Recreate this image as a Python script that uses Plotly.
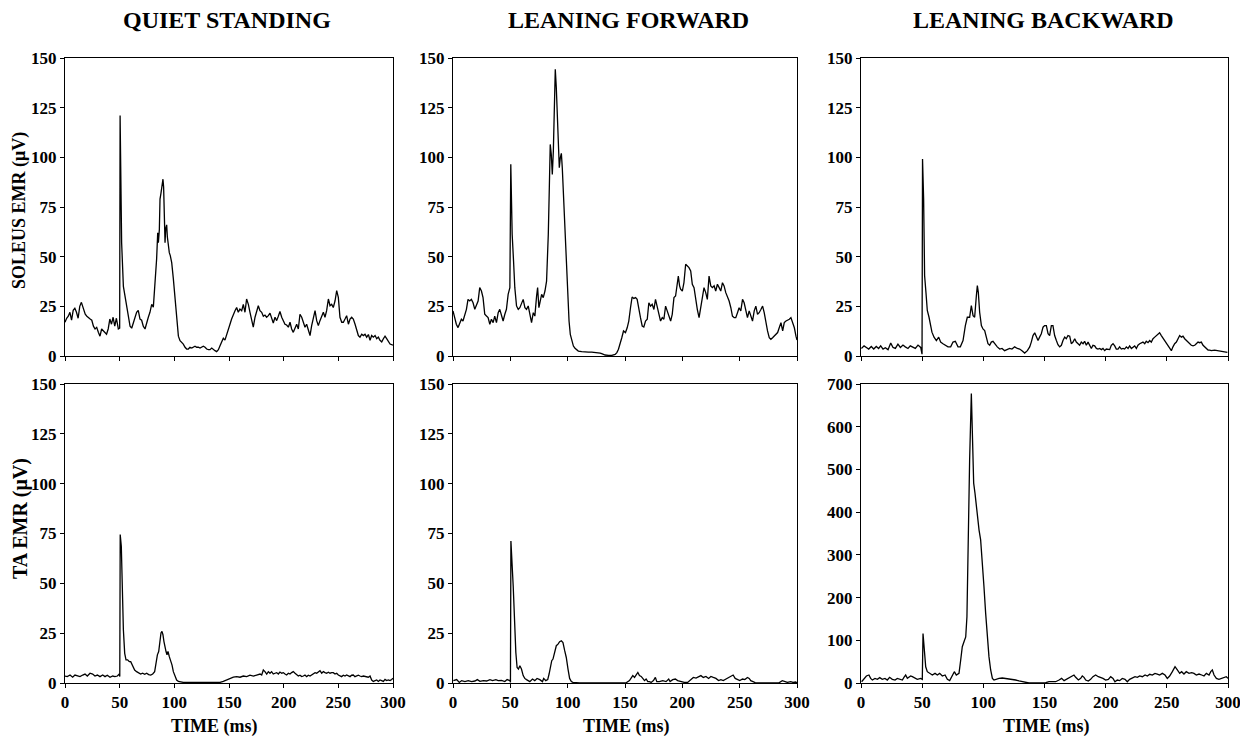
import plotly.graph_objects as go

# ---------------- data (time in ms, EMR in microvolts) ----------------
t_qs_sol = [
0, 1.5, 3, 4.5, 6, 7.5, 9, 10.5, 12, 13.5,
15, 17, 18.5, 20, 21.5, 23, 24.5, 26, 27.5, 29,
30.5, 32, 33.5, 35, 36.5, 38, 39.5, 41, 42.5, 44,
45.5, 47, 48.8, 50, 50.4, 51, 51.8, 53.4, 54.9, 56.4,
57.9, 59.5, 61, 62.5, 64, 65.5, 67, 68.6, 70.1, 71.6,
73.2, 74.7, 76.2, 77.7, 79.3, 80.8, 82.3, 83.8, 84.8, 85.4,
86.3, 86.9, 87.8, 88.7, 89.6, 90.2, 90.9, 91.5, 92.1, 93,
93.6, 94.5, 95.4, 96.3, 97.6, 99.1, 100.6, 101.5, 102.7, 103.7,
105.2, 106.7, 108.2, 109.8, 111.3, 112.8, 114.3, 115.9, 117.4, 118.9,
120.4, 122, 123.5, 125, 126.5, 128.1, 129.6, 131.1, 132.6, 134.2,
135.7, 137.2, 138.7, 140.3, 141.8, 143.3, 144.8, 146.3, 147.8, 149.3,
150.9, 152.4, 153.9, 155.5, 157, 158.5, 160, 161.6, 163.1, 164.6,
166.1, 167.7, 169.2, 170.7, 172.2, 173.8, 175.3, 176.8, 178.3, 179.9,
181.4, 182.9, 184.4, 186, 187.5, 189, 190.5, 192.1, 193.6, 195.1,
196.6, 198.2, 199.7, 201.2, 202.7, 204.3, 205.8, 207.3, 208.8, 210.4,
211.9, 213.4, 214.9, 216.5, 218, 219.5, 221, 222.6, 224.1, 225.6,
227.1, 228.7, 230.2, 231.7, 233.2, 234.8, 236.3, 237.8, 239.3, 240.9,
242.4, 243.9, 245.4, 247, 248.5, 250, 251.5, 253.1, 254.6, 256.1,
257.6, 259.2, 260.7, 262.2, 263.7, 265.3, 266.8, 268.3, 269.8, 271.4,
272.9, 274.4, 275.9, 277.5, 279, 280.5, 282, 283.6, 285.1, 286.6,
288.1, 289.7, 291.2, 292.7, 294.2, 295.8, 297.3, 300]
v_qs_sol = [
17, 19, 20, 22, 18, 23, 24, 22, 19, 25,
27, 24, 21, 20, 19.5, 18.6, 18, 15, 13.6, 14.4,
12, 10, 13.6, 12.8, 12, 11, 13.6, 18.6, 16, 19.5,
15, 19, 13.6, 14, 121, 100, 57, 35, 30, 25,
18.6, 15, 14, 17, 20, 22, 23, 18.6, 18, 15,
13.6, 17, 19.5, 22, 26, 24.6, 35, 48.8, 62, 57,
63.6, 79, 82, 85.7, 89, 85, 74, 57, 64, 66,
60, 55, 52, 50.5, 47, 38.8, 30, 25, 15, 10,
7.7, 6.9, 6, 4.4, 3.5, 3.5, 4.4, 4, 4.4, 4.9,
4.4, 4.4, 4, 4.4, 4.9, 4.4, 3.5, 3.2, 3.2, 4,
3.2, 2.7, 2.2, 3.2, 5.2, 6.9, 9, 8, 11, 12.7,
16, 18.6, 21, 22.8, 24.4, 22, 23.6, 22.8, 26, 22,
28.7, 26, 22, 17.8, 14.5, 19.5, 22.8, 25.3, 22.8, 22,
20, 20.6, 19.5, 20.3, 21.6, 19.5, 16.6, 19.5, 17.8, 20,
22.4, 19.5, 17.8, 16, 15.6, 14.5, 17, 13.6, 11.9, 13.6,
16, 13.6, 21, 19.5, 17, 14.5, 16, 13.6, 10.3, 15.3,
19.5, 22.8, 17.8, 15.3, 17.8, 20.3, 22, 19.5, 22.8, 28.7,
25.3, 26, 24.4, 27.8, 32.9, 29.5, 19.5, 17, 17, 18.6,
20.3, 16, 18.6, 19.5, 18.6, 16, 13.6, 10.3, 9.5, 11,
10.3, 11, 9.5, 10.8, 7.9, 10.3, 9.5, 10.3, 8.7, 9.5,
7.9, 7.1, 8.7, 10, 8.7, 7.1, 6, 5.5]

t_lf_sol = [
0, 1.5, 2.9, 4.4, 5.8, 7.3, 8.7, 10.2, 11.7, 13.1,
14.6, 16, 17.5, 19, 20.4, 21.9, 23.3, 24.8, 26.2, 27.7,
29.2, 30.6, 32.1, 33.5, 35, 36.4, 37.9, 39.4, 40.8, 42.3,
43.7, 45.2, 46.6, 48.1, 49.6, 50.4, 51.6, 52.8, 53.9, 55.4,
56.9, 58.3, 59.8, 61.2, 62.7, 64.1, 65.6, 67.1, 68.5, 70,
71.4, 72.9, 73.8, 74.9, 75.8, 77.3, 78.7, 80.2, 81.6, 82.5,
83.1, 84, 84.8, 85.7, 86.6, 87.5, 88.3, 89.2, 90.1, 91,
91.8, 92.7, 93.6, 94.5, 95.3, 96.5, 97.7, 98.8, 100, 101.2,
102.3, 103.5, 105, 106.4, 107.9, 109.3, 112.2, 115.2, 118.1, 121,
123.9, 126.8, 128.3, 129.7, 132.7, 135.6, 138.5, 141.4, 142.9, 144.3,
145.8, 147.2, 148.7,
150.4, 151.9, 153.3, 154.8, 156.2, 157.7, 159.2, 160.6, 162.1, 163.5,
165, 166.4, 167.9, 169.4, 170.8, 172.3, 173.7, 175.2, 176.6, 178.1,
179.6, 181, 182.5, 183.9, 185.4, 186.9, 188.3, 189.8, 191.2, 192.7,
194.1, 195.6, 196.5, 197.6, 198.5, 200, 201.4, 202.9, 204.3, 205.8,
207.3, 208.7, 210.2, 211.6, 213.1, 214.6, 216, 217.5, 218.9, 220.4,
221.8, 223.3, 224.8, 226.2, 227.7, 229.1, 230.6, 232.1, 233.5, 235,
236.4, 237.9, 239.3, 240.8, 242.3, 243.7, 245.2, 246.6, 248.1, 249.5,
251, 252.5, 253.9, 255.4, 256.8, 258.3, 259.8, 261.2, 262.7, 264.1,
265.6, 267, 268.5, 270, 271.4, 272.9, 274.3, 275.8, 277.2, 278.7,
280.2, 281.6, 283.1, 284.5, 286, 287.5, 288.9, 290.4, 291.8, 293.3,
294.7, 296.2, 297.7, 299.1, 300]
v_lf_sol = [
22.7, 19.3, 16, 14.3, 16.8, 18.5, 17.6, 21, 23.5, 28.5,
27.7, 28.5, 26.8, 23.5, 26, 27.7, 34.4, 32.7, 29.4, 21,
20.1, 19.3, 16, 18.5, 16.8, 20.1, 16.8, 21.8, 23.5, 20.1,
17.6, 21, 23.5, 31, 34.4, 96.5, 61.2, 47.8, 34.4, 25.2,
23.5, 24.3, 26.8, 28.5, 24.3, 23.5, 25.2, 21, 16.8, 21.8,
20.1, 30.2, 34.4, 24.3, 27.7, 31, 29.4, 32.7, 37.7, 47.8,
61.2, 84.7, 106.5, 101.5, 91.4, 103, 130, 144.3, 135, 118,
103, 94.8, 99.8, 102, 94.8, 78, 61.2, 42.7, 27.7, 17.6,
10.9, 7.6, 5, 3.9, 2.9, 2.5, 2.2, 2, 2, 2,
1.8, 1.8, 1.5, 1.2, 0.5, 0.3, 0.3, 0.8, 1.7, 3.4,
5.9, 9.2, 12.6,
11.8, 14.2, 17.6, 24.3, 29.7, 29, 29.4, 28.5, 22.7, 19.3,
15.1, 14.6, 17.6, 18.5, 26.8, 25.1, 26, 23.4, 28.5, 24.3,
21, 17.6, 19.3, 18.5, 25.1, 22.7, 20.1, 17.6, 21, 29.4,
30.2, 35.3, 40.2, 35.3, 33.6, 32.7, 36.9, 46.2, 45.3, 44.5,
42.8, 36.1, 34.4, 28.5, 23.4, 19.3, 25.1, 29.4, 34.4, 31.9,
28.5, 40.2, 35.3, 34.4, 35.3, 32.7, 36.1, 34.4, 32.7, 36.9,
35.3, 31.9, 30.2, 27.7, 24.3, 20.1, 19.3, 19.3, 21.8, 24.3,
22.7, 28.5, 26.8, 21.8, 19.3, 22.7, 19.3, 17.6, 22.7, 25.1,
21, 21.8, 23.4, 25.1, 21.8, 15.9, 12.6, 9.2, 8.4, 9.2,
10, 10.9, 11.8, 14.2, 16.8, 12.6, 16.8, 17.6, 18, 18.5,
19.3, 16.8, 14.2, 10, 8]

t_lb_sol = [
0.3, 2.5, 4.4, 6.3, 8.4, 10.4, 12.5, 14.4, 16.1, 18,
19.9, 22.1, 24.3, 26.2, 28.1, 30.2, 32.2, 34.3, 36.2, 38.4,
40.3, 42.5, 44.4, 46.6, 48.8, 49.9, 50.3, 51.2, 52, 53.1,
54.2, 55.6, 56.9, 58, 59.7, 61.6, 63.5, 65.1, 67, 68.9,
71.1, 73.3, 75.2, 77.1, 79.3, 81.2, 83.4, 85.3, 86.9, 88.8,
90.2, 91.6, 92.9, 94.3, 95.1, 95.9, 97, 98.4, 99.7, 101.1,
102.5, 103.8, 105.2, 106.5, 107.9, 109.3, 111.4, 113.4, 115.3, 117.4,
119.6, 121.5, 123.4, 125.6, 127.8, 129.7, 131.6, 133.8, 136, 137.9,
139.2, 140.6, 142, 143.3, 144.7, 146, 147.4, 148.8, 150.1, 151.5,
152.9, 154.2, 155.6, 156.9, 158.3, 159.7, 161, 162.4, 163.8, 165.1,
166.5, 167.8, 169.2, 170.6, 171.9, 173.3, 174.7, 176, 177.4, 178.7,
180.1, 181.5, 182.8, 184.2, 185.6, 186.9, 188.3, 189.6, 191, 192.4,
193.7, 195.1, 196.5, 197.8, 199.2, 200.5, 201.9, 203.3, 204.6, 206,
207.4, 208.7, 210.1, 211.4, 212.8, 214.2, 215.5, 216.9, 218.3, 219.6,
221, 222.3, 223.7, 225.1, 226.4, 227.8, 229.2, 230.5, 231.9, 233.2,
234.6, 236, 237.3, 238.7, 240.1, 241.4, 242.8, 244.1, 245.5, 246.9,
248.2, 249.6, 251, 252.3, 253.7, 255, 256.4, 257.8, 259.1, 260.5,
261.9, 263.2, 264.6, 265.9, 267.3, 268.7, 270, 271.4, 272.8, 274.1,
275.5, 276.8, 278.2, 279.6, 280.9, 282.3, 283.7, 285, 286.4, 289.1,
291.8, 294.5, 297.3, 299.5]
v_lb_sol = [
3.8, 5.1, 4.3, 3.5, 4.8, 3.5, 4.8, 3.8, 5.1, 3.5,
4.2, 3.2, 6.5, 4.3, 3.8, 6, 4.3, 5.5, 4.6, 3.8,
5.1, 4.3, 3.8, 5.5, 4.3, 0.9, 99.1, 79, 40.4, 32,
22.9, 19.5, 15.3, 12, 9.5, 7.8, 9.5, 7, 6.2, 5.4,
4.6, 4.6, 7, 7.4, 4.6, 4.6, 7.8, 15.3, 19.5, 19.5,
25.4, 20.3, 19.5, 30.3, 35.4, 32, 22, 15.3, 13.6, 12.8,
9.5, 6.2, 5.4, 7, 7.4, 6.2, 4.6, 3.5, 3.8, 2.7,
3.5, 3.8, 3.5, 4.6, 3.8, 3.5, 2.7, 1.5, 2.7, 4.6,
7, 10.3, 11.7, 9.5, 7.8, 9.5, 11.2, 14.5, 15.3, 15.3,
11.2, 10.3, 15.3, 15.3, 10.3, 7.8, 5.7, 4.6, 5.4, 7.8,
9.5, 8.7, 10.3, 10, 6.2, 7, 8.7, 7, 6.2, 5.4,
7, 6.2, 7.4, 5.4, 7, 5.4, 3.8, 5.4, 5.1, 3.8,
3.5, 3.8, 3.2, 3.8, 2.7, 3.5, 3.5, 3.2, 5.4, 6.2,
5.1, 3.5, 3.5, 4.6, 3.5, 3.8, 3.5, 4.6, 3.8, 5.1,
3.8, 4.6, 5.1, 3.8, 5.4, 6.2, 6.7, 7, 6.2, 7.4,
6.7, 7.8, 7, 8.7, 9.5, 10.3, 11.2, 11.7, 10.3, 9,
7.8, 6.2, 4.6, 3.5, 2.7, 4.6, 6.2, 7, 8.7, 10.3,
9.5, 10, 8.7, 7.8, 7, 6.2, 5.4, 5.1, 5.4, 6.2,
7, 6.7, 7, 5.4, 4.6, 3.5, 3, 3, 2.7, 3,
2.7, 2.7, 2.3, 1.8]

t_qs_ta = [
0, 2.1, 4.6, 7, 9.1, 11.3, 13.7, 16.2, 18.3, 20.4,
22.9, 25.3, 27.4, 29.6, 32, 34.5, 36.6, 38.7, 41.2, 43.6,
45.7, 47.9, 49.7, 50.1, 50.5, 51.5, 52.4, 53.4, 54.6, 55.8,
57.3, 58.8, 60.1, 61.9, 63.7, 65.5, 67.4, 69.2, 71, 72.9,
74.7, 76.5, 78.4, 80.2, 82, 83.2, 84.5, 85.7, 86.9, 87.8,
88.7, 89.6, 90.5, 91.5, 92.4, 93.3, 94.2, 95.4, 96.6, 97.9,
99.1, 100.6, 102.1, 103.7, 105.2, 108.2, 111.3, 117.4, 123.5, 129.6,
135.7, 141.8, 144.8, 147.9, 150.9, 154, 157, 160.1, 163.1, 166.2,
169.2, 172.3, 175.3, 178.4, 179.9, 181.4, 182.9, 184.5, 186, 187.5,
189, 190.5, 192.1, 193.6, 195.1, 196.6, 198.2, 199.7, 201.2, 202.7,
204.3, 205.8, 207.3, 208.8, 210.4, 211.9, 213.4, 214.9, 216.5, 218,
219.5, 221, 222.6, 224.1, 225.6, 227.1, 228.7, 230.2, 231.7, 233.2,
234.8, 236.3, 237.8, 239.3, 240.9, 242.4, 243.9, 245.4, 247, 248.5,
250, 251.5, 253, 254.6, 256.1, 257.6, 259.1, 260.7, 262.2, 263.7,
265.2, 266.8, 268.3, 269.8, 271.3, 272.9, 274.4, 275.9, 277.4, 279,
280.5, 282, 283.5, 285.1, 286.6, 288.1, 289.6, 291.2, 292.7, 294.2,
295.7, 297.3, 298.8, 300]
v_qs_ta = [
3.5, 3.2, 4, 2.9, 4, 3.5, 3.2, 4, 4.5, 3.5,
4.9, 4.5, 3.5, 4, 3.2, 4, 3.2, 3.9, 2.9, 3.5,
3.2, 3.5, 4.5, 3.2, 74.5, 68.6, 48.5, 26.7, 14.9, 11.6,
11.6, 10.7, 10.7, 8.6, 6.5, 5.7, 4.9, 4.5, 4.9, 4.4,
4.9, 4.2, 4, 4.5, 5.7, 9.9, 14.1, 15.8, 21.7, 25.1,
25.9, 24.2, 20.8, 17.5, 15.8, 14.1, 15.8, 13.2, 11.6, 9,
5.7, 3.2, 1.5, 0.8, 0.5, 0.3, 0.3, 0.3, 0.2, 0,
0, 0.3, 0.8, 1.5, 2.5, 2.9, 3.2, 2.9, 3.5, 3.2,
3.9, 3.5, 4, 4.5, 4, 6.5, 5.7, 4.5, 5.7, 4.9,
5.7, 4.5, 4.9, 5.2, 4.5, 5.5, 4.9, 5.2, 4.5, 4,
4.9, 4.5, 5.2, 5.7, 4.9, 4, 3.5, 3.9, 3.2, 3.5,
4, 3.2, 3.9, 3.5, 4, 4.5, 5.2, 4.9, 5.7, 6.2,
4.9, 5.7, 5.2, 4.9, 5.4, 4.9, 5.2, 5.2, 4.5, 4.9,
4, 3.5, 3.2, 3.9, 3.5, 4, 3.5, 3.2, 3.9, 4,
3.2, 3.5, 3.9, 3.5, 3.2, 3.5, 3.2, 3.2, 2.9, 3.5,
1.5, 0.8, 1.2, 1.5, 0.8, 1.5, 1.2, 0.8, 1.8, 1.2,
1.5, 1.2, 1.8, 2.4]

t_lf_ta = [
0.3, 3.2, 5.5, 7.5, 10.4, 13.3, 16.2, 19.1, 21.2, 23.5,
26.4, 29.3, 32.2, 34.5, 37.4, 39.4, 42.3, 45.2, 47.2, 49.6,
50.1, 50.5, 52.5, 53.6, 54.8, 55.9, 57.1, 58.3, 59.7, 61.2,
62.6, 64.1, 67, 69.3, 71.3, 73.3, 75.7, 78, 79.1, 80.9,
82.6, 83.8, 84.9, 86.1, 87.2, 88.7, 90.1, 91.6, 93, 94.5,
95.9, 97.4, 98.8, 100.3, 101.7, 103.2, 104.6, 110.4, 116.2, 122,
127.8, 133.6, 139.4, 145.2, 151, 153.9, 155.4, 156.8, 158.3, 159.7,
161.2, 162.6, 164.1, 165.5, 167, 168.4, 169.9, 171.3, 172.8, 174.8,
176.5, 177.7, 180, 182.9, 185.8, 188.1, 189.3, 191.6, 193.9, 195.9,
198.8, 201.7, 204.6, 207.5, 209.6, 211.9, 214.2, 216.2, 218.3, 220.6,
222.9, 224.9, 227, 229.3, 231.6, 233.6, 235.7, 238, 240.3, 242.3,
244.3, 246.1, 248.1, 250.1, 252.5, 254.5, 256.8, 258.3, 259.7, 261.2,
263.5, 267, 272.8, 278.6, 284.3, 287.2, 289.6, 291.6, 294.5, 296.5,
298.8, 300]
v_lf_ta = [
1.2, 1.7, 0.3, 1.2, 0.7, 1.2, 0.7, 1, 1.7, 0.8,
1.2, 1, 1.7, 1.2, 1.7, 1.2, 1.3, 0.7, 1.7, 1.2,
0.3, 71.2, 48.7, 28.7, 15.3, 7.8, 7, 8.7, 7, 3.7,
2.3, 1.7, 0.7, 2, 1.2, 2.3, 1.7, 0.7, 2.3, 1.2,
1.7, 4.5, 8.7, 11.2, 12, 15.3, 18.7, 19.5, 20.7, 21.2,
20.3, 16.2, 12.8, 7, 2.3, 0.7, 0.3, 0.1, 0.1, 0.1,
0.1, 0.1, 0.1, 0.1, 0.1, 1.2, 2.3, 3.7, 2.8, 4,
5.3, 3.7, 3.3, 2.3, 1.2, 2, 0.7, 0.7, 0.3, 1.2,
2.8, 0.7, 0.7, 1.2, 0.7, 2, 0.7, 1.7, 2, 1.2,
0.7, 0.3, 0.3, 2, 2.8, 2.5, 3.2, 3.7, 2.8, 3.3,
2.3, 3.3, 2.8, 2.3, 1.2, 1.7, 1.2, 2, 2.8, 3.3,
4, 2.3, 1.7, 1.2, 2, 1.7, 2.8, 2.3, 1.2, 0.7,
0.2, 0.1, 0.1, 0.1, 0.1, 1.2, 0.7, 0.3, 0.7, 0.3,
0.5, 0.1]

t_lb_ta = [
0.5, 2.5, 4.4, 6.5, 7.9, 9.3, 11.4, 13.4, 15.3, 17.4,
19.6, 21.5, 23.4, 25.6, 27.8, 29.7, 31.6, 33.8, 35.1, 36.5,
37.9, 39.2, 40.6, 42, 44.1, 46, 48.8, 50.1, 50.7, 51.5,
52.9, 54.2, 56.1, 58.3, 60.5, 62.4, 64.3, 66.5, 68.7, 70.6,
72.5, 74.7, 76.3, 77.9, 80.1, 81.5, 82.8, 84.2, 85.6, 86.6,
87.7, 88.8, 90.2, 91, 92.1, 93.2, 94.3, 95.4, 96.5, 97.8,
99.2, 100.5, 101.9, 103.3, 104.6, 106, 107.4, 108.7, 110.1, 112.8,
115.5, 118.3, 121, 123.7, 126.4, 129.2, 131.9, 134.6, 137.3, 140.1,
142.8, 145.5, 148.2, 151, 153.7, 156.4, 159.1, 161.9, 164, 166,
167.8, 170, 172.2, 174.1, 175.5, 177.7, 179.6, 180.9, 182.3, 183.7,
185.8, 187.7, 189.6, 191.8, 194, 195.9, 197.8, 200, 202.2, 204.1,
206, 207.6, 209.5, 211.4, 213.6, 215.8, 217.7, 219.6, 221.8, 224,
225.9, 227.8, 230, 232.2, 234.1, 236, 238.1, 240.3, 242.2, 244.1,
246.3, 248.5, 250.4, 252.3, 254.5, 256.7, 258.6, 260.5, 262.1, 264,
265.9, 268.1, 270.3, 272.2, 274.1, 276.3, 278.5, 280.4, 282.3, 284.5,
285.9, 287.2, 288.6, 290.5, 292.6, 294.8, 296.7, 298.6, 300]
v_lb_ta = [
3, 10.8, 16.4, 18.7, 10.8, 7, 10.8, 8.6, 12.5, 8.6,
10.8, 7, 13.3, 8.6, 7, 10.8, 8.6, 7, 13.3, 18.7,
10.8, 13.3, 16.4, 14.8, 10.8, 8.6, 10.8, 8.6, 116, 85,
38, 26.5, 22.6, 18.7, 22.6, 18.7, 22.6, 16.4, 18.7, 8.6,
5.5, 18.7, 26.5, 18.7, 22.6, 53.8, 85, 96.7, 108, 155,
366, 522, 678, 561, 468, 444, 413, 374, 358, 335,
288, 226, 163, 108, 61.7, 30.5, 10.8, 7, 8.6, 10.8,
11.7, 10.8, 10, 8.6, 7, 4.7, 3, 0.8, 0, 0,
0, 0, 0.8, 0.8, 3, 2.3, 3, 7, 10.8, 5.5,
8.6, 10.8, 16.4, 18.7, 13.3, 7, 10.8, 16.4, 13.3, 7,
4.7, 8.6, 14.8, 18.7, 14.8, 13.3, 10.8, 7, 8.6, 14.8,
10.8, 3, 7, 5.5, 10.8, 8.6, 3, 8.6, 10.8, 14.8,
13.3, 16.4, 14.8, 18.7, 16.4, 20.3, 18.7, 22.6, 21, 18.7,
22.6, 18.7, 10.8, 16.4, 26.5, 38.2, 30.5, 22.6, 26.5, 21,
26.5, 22.6, 24.2, 22.6, 18.7, 21, 18.7, 16.4, 22.6, 18.7,
26.5, 30.5, 18.7, 10.8, 8.6, 10.8, 13.3, 14.8, 10.8]

conditions = ["QUIET STANDING", "LEANING FORWARD", "LEANING BACKWARD"]
row_labels = ["SOLEUS EMR (\u03bcV)", "TA EMR (\u03bcV)"]
x_ticks = [0, 50, 100, 150, 200, 250, 300]
y_ticks_150 = [0, 25, 50, 75, 100, 125, 150]
y_ticks_700 = [0, 100, 200, 300, 400, 500, 600, 700]

series = [
    (t_qs_sol, v_qs_sol), (t_lf_sol, v_lf_sol), (t_lb_sol, v_lb_sol),
    (t_qs_ta, v_qs_ta), (t_lf_ta, v_lf_ta), (t_lb_ta, v_lb_ta),
]
for t, v in series:
    assert len(t) == len(v), (len(t), len(v))

# ---------------- layout ----------------
W, H = 1240, 737
FONT = "Liberation Serif"
col_px = [(65, 393), (453, 797), (861, 1228)]
row_px = [(58, 356), (384, 683)]

fig = go.Figure()
layout = dict(
    width=W, height=H,
    margin=dict(l=0, r=0, t=0, b=0, pad=0, autoexpand=False),
    paper_bgcolor="white", plot_bgcolor="white", showlegend=False,
    font=dict(family=FONT, color="black"),
)
tickfont = dict(family=FONT, size=17, color="black", weight="bold")

for i, (t, v) in enumerate(series):
    r, c = divmod(i, 3)
    idx = i + 1
    xa = "x" if idx == 1 else f"x{idx}"
    ya = "y" if idx == 1 else f"y{idx}"
    fig.add_trace(go.Scatter(x=t, y=v, mode="lines", xaxis=xa, yaxis=ya,
                             line=dict(color="black", width=1.3),
                             hoverinfo="skip", cliponaxis=True))
    x0, x1 = col_px[c]
    y0, y1 = row_px[r]
    big = (i == 5)
    layout["xaxis" if idx == 1 else f"xaxis{idx}"] = dict(
        domain=[x0 / W, x1 / W], anchor=ya, range=[0, 300],
        tickmode="array", tickvals=x_ticks, showticklabels=(r == 1),
        ticks="outside", ticklen=4, tickwidth=1, tickcolor="black",
        showline=True, linecolor="black", linewidth=1, mirror=True,
        showgrid=False, zeroline=False, tickfont=tickfont, automargin=False,
        ticklabeloverflow="allow",
    )
    layout["yaxis" if idx == 1 else f"yaxis{idx}"] = dict(
        domain=[1 - y1 / H, 1 - y0 / H], anchor=xa,
        range=[0, 700] if big else [0, 150],
        tickmode="array", tickvals=y_ticks_700 if big else y_ticks_150,
        ticks="outside", ticklen=4, tickwidth=1, tickcolor="black",
        showline=True, linecolor="black", linewidth=1, mirror=True,
        showgrid=False, zeroline=False, tickfont=tickfont, automargin=False,
        ticklabeloverflow="allow",
    )

annotations = []
title_x = [227, 629, 1043]
for name, xc in zip(conditions, title_x):
    annotations.append(dict(text=f"<b>{name}</b>", x=xc / W, y=1 - 20 / H,
                            xref="paper", yref="paper", showarrow=False,
                            xanchor="center", yanchor="middle",
                            font=dict(family=FONT, size=24, color="black")))
time_x = [214, 626, 1046]
for xc in time_x:
    annotations.append(dict(text="<b>TIME (ms)</b>", x=xc / W, y=1 - 726 / H,
                            xref="paper", yref="paper", showarrow=False,
                            xanchor="center", yanchor="middle",
                            font=dict(family=FONT, size=18, color="black")))
ylab_y = [211, 519]
ylab_size = [18, 20]
for lab, yc, sz in zip(row_labels, ylab_y, ylab_size):
    annotations.append(dict(text=f"<b>{lab}</b>", x=20 / W, y=1 - yc / H,
                            xref="paper", yref="paper", showarrow=False,
                            textangle=-90, xanchor="center", yanchor="middle",
                            font=dict(family=FONT, size=sz, color="black")))
layout["annotations"] = annotations
fig.update_layout(**layout)

fig.write_html("out.html")
